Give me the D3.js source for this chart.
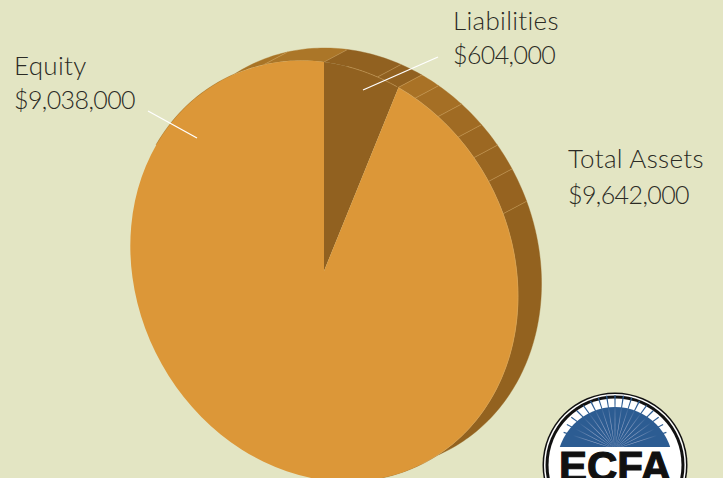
<!DOCTYPE html>
<html>

<head>
    <meta charset="utf-8">
    <title>ECFA pie</title>
    <style>
        html, body { margin: 0; padding: 0; background: #e3e5c3; overflow: hidden; }
        svg { display: block; }
        .lbl { font-family: Lato, sans-serif; font-weight: 300; font-size: 26px; letter-spacing: 0.3px; fill: #2b2b25; }
        .num { font-size: 25px; letter-spacing: -0.6px; }
        .seam { fill: none; stroke: #d9ae6b; stroke-width: 0.6px; stroke-opacity: 0.75; }
    </style>
    <script src="https://d3js.org/d3.v7.min.js"></script>
</head>

<body>
    <script>
        var names = ["Liabilities", "Equity"];
        var values = [604000, 9038000];
        var amounts = ["$604,000", "$9,038,000"];
        var total = ["Total Assets", "$9,642,000"];
        var faceColors = ["#916120", "#dc9738"];

        // facets of the rim: start angle in degrees and colour
        var rimAngles = [-60, -18, 0, 16, 22.5, 28, 36, 43.7, 50.6, 58, 67.4, 175];
        var rimColors = ["#a97426", "#ab7628", "#916120", "#916120", "#a97226", "#a56f25",
            "#a06b23", "#9c6822", "#996621", "#966320", "#93621f"];

        var w = 723;
        var h = 478;
        var cx = 324, cy = 271;
        // the tilted ellipse of the pie top: where 3 o'clock and 12 o'clock land
        var ux = 194, uy = 25, vy = 209;
        var depthX = 23.5, depthY = -12.5;

        var svg = d3.select("body").append("svg")
            .attr("width", w)
            .attr("height", h);

        function pt(a, back) {
            var r = a * Math.PI / 180;
            return [cx + ux * Math.sin(r) + (back ? depthX : 0),
                cy + uy * Math.sin(r) - vy * Math.cos(r) + (back ? depthY : 0)];
        }

        var line = d3.line();

        // rim first, the top covers what cannot be seen
        d3.pairs(rimAngles).forEach(function (p, i) {
            var steps = d3.range(p[0], p[1], 1).concat([p[1]]);
            var outline = steps.map(function (a) { return pt(a, true); })
                .concat(steps.slice().reverse().map(function (a) { return pt(a, false); }));
            svg.append("path")
                .attr("d", line(outline) + "Z")
                .attr("fill", rimColors[i])
                .attr("stroke", rimColors[i])
                .attr("stroke-width", 0.4);
        });

        rimAngles.slice(1, -1).forEach(function (a) {
            svg.append("path")
                .attr("class", "seam")
                .attr("d", line([pt(a, false), pt(a, true)]));
        });

        // top of the pie
        var pie = d3.pie().sort(null);
        var arc = d3.arc().innerRadius(0).outerRadius(1);

        var face = svg.append("g")
            .attr("transform", "matrix(" + [ux, uy, 0, vy, cx, cy].join(",") + ")");

        face.selectAll("path")
            .data(pie(values))
            .enter()
            .append("path")
            .attr("d", arc)
            .attr("fill", function (d, i) { return faceColors[i]; });

        // thin light edge along the front of the top
        var rimLine = d3.range(22.5, 150, 1).map(function (a) { return pt(a, false); });
        svg.append("path").attr("class", "seam").attr("d", line(rimLine));
        var wedgeLine = d3.range(7, 23, 1).map(function (a) { return pt(a, false); });
        svg.append("path").attr("class", "seam").attr("d", line(wedgeLine));

        // leader lines
        var leaders = [[[438, 57], [363, 90]], [[148, 111], [197, 138]]];
        leaders.forEach(function (l) {
            svg.append("path")
                .attr("d", line(l))
                .attr("stroke", "#fff")
                .attr("stroke-width", 1.3)
                .attr("fill", "none");
        });

        function label(x, y, s, cls) {
            svg.append("text").attr("class", "lbl " + (cls || "")).attr("x", x).attr("y", y).text(s);
        }
        label(453, 30, names[0]);
        label(453, 64, amounts[0], "num");
        label(14, 75, names[1]);
        label(14, 109, amounts[1], "num");
        label(568, 168, total[0]);
        label(568, 204, total[1], "num");

        // ECFA seal
        var seal = svg.append("g").attr("transform", "translate(615,465)");
        seal.append("circle").attr("r", 72.5).attr("fill", "#111");
        seal.append("circle").attr("r", 71).attr("fill", "#fff");
        seal.append("circle").attr("r", 69.5).attr("fill", "#111");
        seal.append("circle").attr("r", 66.5).attr("fill", "#fff");

        var defs = svg.append("defs");
        defs.append("clipPath").attr("id", "dome")
            .append("rect").attr("x", -70).attr("y", -70).attr("width", 140).attr("height", 52);
        var grad = defs.append("radialGradient").attr("id", "ray")
            .attr("gradientUnits", "userSpaceOnUse")
            .attr("cx", 0).attr("cy", -16).attr("r", 44);
        grad.append("stop").attr("offset", 0).attr("stop-color", "#d8d4e6");
        grad.append("stop").attr("offset", 0.45).attr("stop-color", "#a9b4d2");
        grad.append("stop").attr("offset", 1).attr("stop-color", "#2c5c92");

        var dome = seal.append("g").attr("clip-path", "url(#dome)");
        dome.append("circle").attr("r", 58).attr("fill", "#2c5c92");

        var rayAngles = [-72, -63, -54, -45, -36, -27, -18, -9, 0, 9, 18, 27, 36, 45, 54, 63, 72];
        rayAngles.forEach(function (a) {
            var r = a * Math.PI / 180;
            dome.append("path")
                .attr("d", line([[0, -16],
                    [54 * Math.sin(r - 0.012), -16 - 54 * Math.cos(r - 0.012)],
                    [54 * Math.sin(r + 0.012), -16 - 54 * Math.cos(r + 0.012)]]) + "Z")
                .attr("fill", "url(#ray)");
        });

        seal.append("text")
            .attr("x", 0).attr("y", 16)
            .attr("text-anchor", "middle")
            .attr("font-family", "Liberation Sans, sans-serif")
            .attr("font-weight", 700)
            .attr("font-size", 42)
            .attr("stroke", "#111")
            .attr("stroke-width", 1.2)
            .attr("fill", "#111")
            .text("ECFA");
    </script>
</body>

</html>
